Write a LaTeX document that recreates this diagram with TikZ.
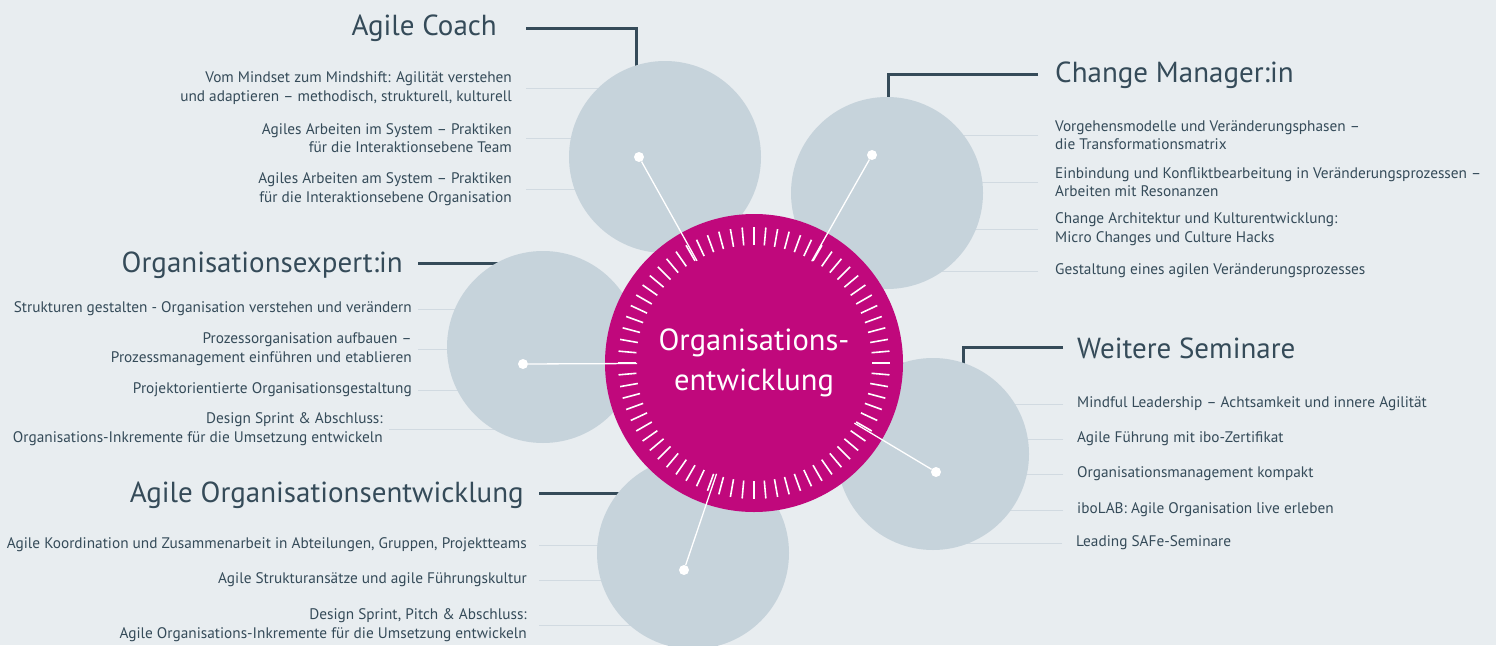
\documentclass[tikz,border=0pt]{standalone}
\usepackage{fontspec}
\setmainfont{PT Sans}
\usetikzlibrary{positioning,calc}

\definecolor{bgblue}{HTML}{E8EDF0}
\definecolor{bubblegray}{HTML}{C6D3DB}
\definecolor{coremagenta}{HTML}{C0087C}
\definecolor{slate}{HTML}{354B59}
\definecolor{hairline}{HTML}{D1DAE1}

\begin{document}
\begin{tikzpicture}[
  x=1pt, y=-1pt,
  bubble/.style={circle, fill=bubblegray, minimum size=192pt, inner sep=0pt},
  corenode/.style={circle, fill=coremagenta, minimum size=298pt, inner sep=0pt, text=white, align=center, font=\fontsize{30.5}{40}\selectfont},
  dotnode/.style={circle, fill=white, inner sep=0pt, minimum size=10pt},
  heading/.style={text=slate, inner sep=0pt, font=\fontsize{29}{34}\selectfont},
  itemleft/.style={text=slate, inner sep=0pt, anchor=east, align=right, font=\fontsize{15.3}{18.5}\selectfont},
  itemright/.style={text=slate, inner sep=0pt, anchor=west, align=left, font=\fontsize{15.3}{18.5}\selectfont},
  bracket/.style={draw=slate, line width=3pt},
  hair/.style={draw=hairline, line width=1pt},
  spoke/.style={draw=white, line width=1.3pt},
  tickline/.style={draw=white, line width=1.6pt}
]
\useasboundingbox[fill=bgblue] (0,0) rectangle (1496,645);

%Centres
\coordinate (coachc) at (665,157);
\coordinate (changec) at (887,193);
\coordinate (orgexpc) at (543,347);
\coordinate (agileorgc) at (693,553);
\coordinate (furtherc) at (933,454);

%Headings
\node[heading, anchor=base east] (achead) at (497,35) {Agile Coach};
\node[heading, anchor=base west] (cmhead) at (1055,82) {Change Manager:in};
\node[heading, anchor=base east] (oehead) at (403,272) {Organisationsexpert:in};
\node[heading, anchor=base west] (wshead) at (1077,358) {Weitere Seminare};
\node[heading, anchor=base east] (aohead) at (524,502) {Agile Organisationsentwicklung};

%Items
\node[itemleft] (ac1) at (512,88) {Vom Mindset zum Mindshift: Agilität verstehen\\und adaptieren – methodisch, strukturell, kulturell};
\node[itemleft] (ac2) at (512,138) {Agiles Arbeiten im System – Praktiken\\für die Interaktionsebene Team};
\node[itemleft] (ac3) at (512,189) {Agiles Arbeiten am System – Praktiken\\für die Interaktionsebene Organisation};

\node[itemright] (cm1) at (1055,135) {Vorgehensmodelle und Veränderungsphasen –\\die Transformationsmatrix};
\node[itemright] (cm2) at (1055,182) {Einbindung und Konfliktbearbeitung in Veränderungsprozessen –\\Arbeiten mit Resonanzen};
\node[itemright] (cm3) at (1055,229) {Change Architektur und Kulturentwicklung:\\Micro Changes und Culture Hacks};
\node[itemright] (cm4) at (1055,271) {Gestaltung eines agilen Veränderungsprozesses};

\node[itemleft] (oe1) at (412,309) {Strukturen gestalten - Organisation verstehen und verändern};
\node[itemleft] (oe2) at (412,349) {Prozessorganisation aufbauen –\\Prozessmanagement einführen und etablieren};
\node[itemleft] (oe3) at (412,390) {Projektorientierte Organisationsgestaltung};
\node[itemleft] (oe4) at (383,429) {Design Sprint \& Abschluss:\\Organisations-Inkremente für die Umsetzung entwickeln};

\node[itemleft] (ao1) at (527,545) {Agile Koordination und Zusammenarbeit in Abteilungen, Gruppen, Projektteams};
\node[itemleft] (ao2) at (527,580) {Agile Strukturansätze und agile Führungskultur};
\node[itemleft] (ao3) at (527,625) {Design Sprint, Pitch \& Abschluss:\\Agile Organisations-Inkremente für die Umsetzung entwickeln};

\node[itemright] (ws1) at (1077,404) {Mindful Leadership – Achtsamkeit und innere Agilität};
\node[itemright] (ws2) at (1077,439) {Agile Führung mit ibo-Zertifikat};
\node[itemright] (ws3) at (1077,474) {Organisationsmanagement kompakt};
\node[itemright] (ws4) at (1077,510) {iboLAB: Agile Organisation live erleben};
\node[itemright] (ws5) at (1076,543) {Leading SAFe-Seminare};

%Lines
\foreach \n in {ac1,ac2,ac3}
  \draw[hair] ([xshift=14pt]\n.east) -- (\n.east -| coachc);
\foreach \n in {cm1,cm2,cm3,cm4}
  \draw[hair] ([xshift=-17pt]\n.west) -- (\n.west -| changec);
\foreach \n in {oe1,oe2,oe3,oe4}
  \draw[hair] ([xshift=6pt]\n.east) -- (\n.east -| orgexpc);
\foreach \n in {ao1,ao2,ao3}
  \draw[hair] ([xshift=12pt]\n.east) -- (\n.east -| agileorgc);
\foreach \n in {ws1,ws2,ws3,ws4,ws5}
  \draw[hair] ([xshift=-14pt]\n.west) -- (\n.west -| furtherc);

%Brackets
\draw[bracket] ([xshift=29pt, yshift=7pt]achead.base east) -| ([xshift=-29pt, yshift=-32pt]coachc |- achead.base east);
\draw[bracket] ([xshift=-17pt, yshift=8pt]cmhead.base west) -| ([xshift=1pt, yshift=-20pt]changec |- cmhead.base west);
\draw[bracket] ([xshift=15pt, yshift=9pt]oehead.base east) -- ([yshift=9pt]oehead.base east -| orgexpc);
\draw[bracket] ([xshift=-14pt, yshift=11pt]wshead.base west) -| ([xshift=30pt, yshift=-20pt]furtherc |- wshead.base west);
\draw[bracket] ([xshift=15pt, yshift=9pt]aohead.base east) -- ([yshift=9pt]aohead.base east -| agileorgc);

%Bubbles
\node[bubble] (coach) at (coachc) {};
\node[bubble] (change) at (changec) {};
\node[bubble] (orgexp) at (orgexpc) {};
\node[bubble] (agileorg) at (agileorgc) {};
\node[bubble] (further) at (furtherc) {};

%Core
\node[corenode] (core) at (754,363) {Organisations-\\entwicklung};
\foreach \a in {0,5,...,355}
  \draw[tickline] ($(core.center)+(\a:118pt)$) -- ($(core.center)+(\a:136pt)$);

%Spokes
\node[dotnode] (coachdot) at (639,157) {};
\node[dotnode] (changedot) at (872,155) {};
\node[dotnode] (orgexpdot) at (523,364) {};
\node[dotnode] (agileorgdot) at (684,570) {};
\node[dotnode] (furtherdot) at (936,472) {};
\foreach \d in {coachdot,changedot,orgexpdot,agileorgdot,furtherdot}
  \draw[spoke] (\d) -- ($(core.center)!117pt!(\d)$);
\end{tikzpicture}
\end{document}
